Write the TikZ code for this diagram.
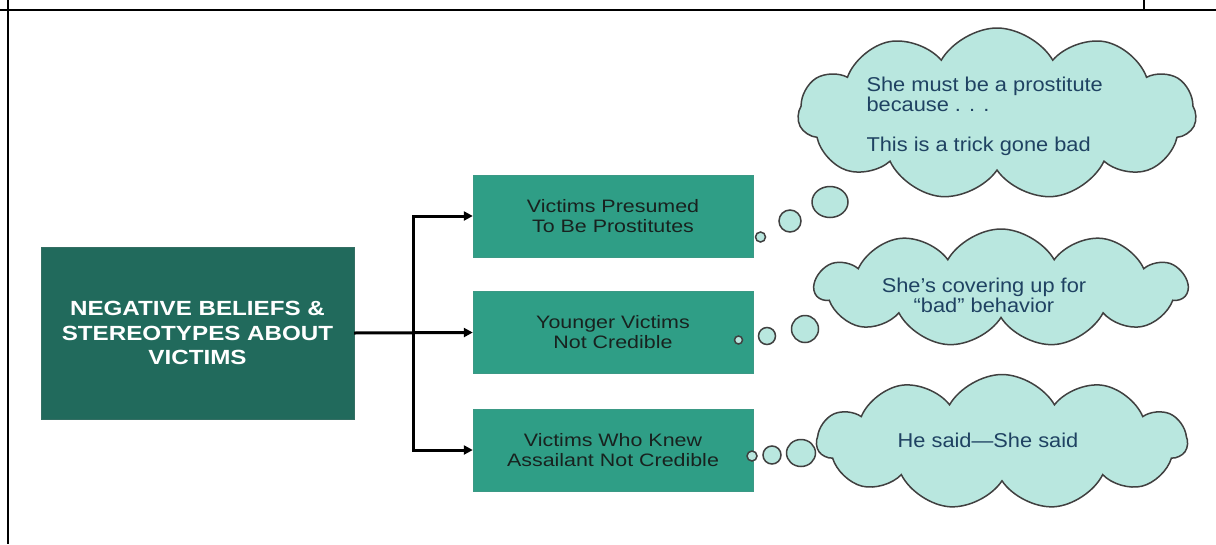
\documentclass[tikz,border=0pt]{standalone}
\usepackage{fontspec}
\setmainfont{Liberation Sans}
\newfontfamily\mainwide[FakeStretch=1.18]{Liberation Sans}
\newfontfamily\boxwide[FakeStretch=1.19]{Liberation Sans}
\newfontfamily\cloudwide[FakeStretch=1.09]{Liberation Sans}
\usetikzlibrary{shapes.symbols,shapes.geometric,arrows.meta}
\definecolor{darkgr}{HTML}{216A5C}
\definecolor{teal}{HTML}{2F9E86}
\definecolor{cloudfill}{HTML}{B9E7DF}
\definecolor{cloudtext}{HTML}{1F4262}
\definecolor{boxtext}{HTML}{18221F}
\tikzset{
  mainbox/.style={fill=darkgr, draw=darkgr!80!gray, minimum width=313pt, minimum height=172pt, inner sep=0pt,
     text=white, font=\mainwide\fontsize{20.5}{24.5}\selectfont\bfseries, align=center},
  subbox/.style={fill=teal, draw=teal!85!gray, minimum width=280pt, minimum height=82pt, inner sep=0pt,
     text=boxtext, font=\boxwide\fontsize{18}{20}\selectfont, align=center},
  thought/.style={cloud, cloud puffs=11, cloud puff arc=120, aspect=2.6, fill=cloudfill, draw=black!75, line width=1.5pt, inner sep=0pt},
  bubble/.style={ellipse, fill=cloudfill, draw=black!75, line width=1.5pt, inner sep=0pt},
  ctext/.style={text=cloudtext, font=\cloudwide\fontsize{20}{20}\selectfont, align=left},
  conn/.style={line width=3pt, black},
  arr/.style={conn, -{Triangle[length=9pt,width=9pt]}},
  frame/.style={line width=2.4pt, black}
}
\begin{document}
\begin{tikzpicture}[x=1pt,y=-1pt]
\useasboundingbox (0,0) rectangle (1216,544);
\fill[white] (0,0) rectangle (1216,544);
% frame
\coordinate (fTL) at (8,0);
\coordinate (fBL) at (8,544);
\coordinate (hL) at (0,10);
\coordinate (hR) at (1216,10);
\coordinate (vT) at (1144,0);
\coordinate (vB) at (1144,10);
\draw[frame] (fTL) -- (fBL);
\draw[frame] (hL) -- (hR);
\draw[frame] (vT) -- (vB);

% main box
\node[mainbox] (main) at (197.5,333) {NEGATIVE BELIEFS \&\\STEREOTYPES ABOUT\\VICTIMS};

% sub boxes
\node[subbox] (b1) at (613,216) {Victims Presumed\\To Be Prostitutes};
\node[subbox] (b2) at (613,332.5) {Younger Victims\\Not Credible};
\node[subbox] (b3) at (613,450) {Victims Who Knew\\Assailant Not Credible};

% connectors
\coordinate (j) at (413,333);
\draw[arr] (main.east) -- (b2.west);
\draw[arr] (j) |- (b1.west);
\draw[arr] (j) |- (b3.west);

% clouds
\node[thought, minimum width=398pt, minimum height=172pt] (c1) at (997,114) {};
\node[thought, minimum width=372pt, minimum height=118pt] (c2) at (1001,288) {};
\node[thought, minimum width=370pt, minimum height=135pt] (c3) at (1002,442) {};

\node[ctext, anchor=north west] (t1) at (863,73) {She must be a prostitute\\because . . .\\[20pt]This is a trick gone bad};
\node[ctext, align=center] (t2) at (984,295) {She’s covering up for\\“bad” behavior};
\node[ctext] (t3) at (988,440) {He said—She said};

% thought bubbles
\node[bubble, minimum size=10pt] (s11) at (760.5,237) {};
\node[bubble, minimum size=22pt] (s12) at (790,221) {};
\node[bubble, minimum width=36pt, minimum height=31pt] (s13) at (830,202) {};

\node[bubble, minimum size=8pt] (s21) at (738.5,340) {};
\node[bubble, minimum size=17pt] (s22) at (767,336) {};
\node[bubble, minimum size=27pt] (s23) at (805,329) {};

\node[bubble, minimum size=10pt] (s31) at (752,456) {};
\node[bubble, minimum size=18pt] (s32) at (772,455) {};
\node[bubble, minimum width=29pt, minimum height=27pt] (s33) at (801,453) {};
\end{tikzpicture}
\end{document}
